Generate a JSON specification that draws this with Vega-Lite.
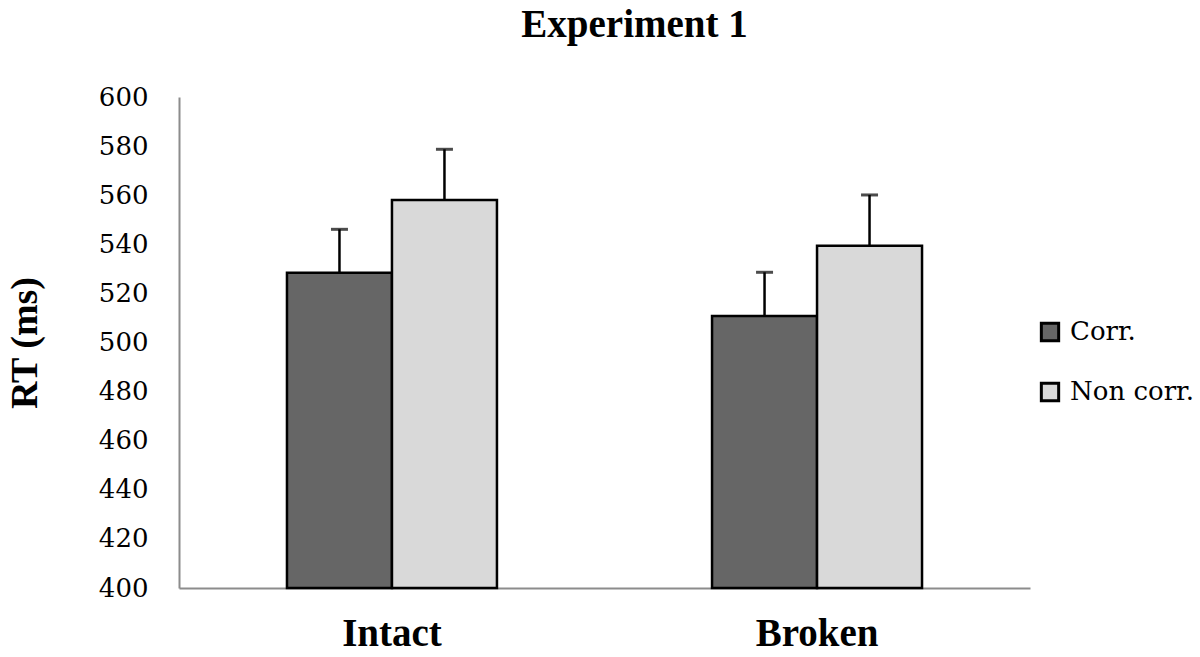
{
  "$schema": "https://vega.github.io/schema/vega-lite/v6.json",
  "autosize": {"type": "none"},
  "padding": {"left": 179, "top": 97, "right": 170, "bottom": 69},
  "width": 851,
  "height": 491,
  "background": "white",
  "title": {
    "text": "Experiment 1",
    "fontSize": 39,
    "fontWeight": "bold",
    "color": "black",
    "offset": 39,
    "dx": 30
  },
  "data": {
    "values": [
      {"group": "Intact", "cond": "Corr.", "rt": 528.4, "upper": 546.1},
      {"group": "Intact", "cond": "Non corr.", "rt": 558.0, "upper": 578.7},
      {"group": "Broken", "cond": "Corr.", "rt": 510.8, "upper": 528.6},
      {"group": "Broken", "cond": "Non corr.", "rt": 539.4, "upper": 560.1}
    ]
  },
  "encoding": {
    "x": {
      "field": "group",
      "type": "nominal",
      "sort": ["Intact", "Broken"],
      "scale": {"paddingInner": 0.506, "paddingOuter": 0.254},
      "axis": {
        "title": null,
        "labelAngle": 0,
        "labelFontSize": 39,
        "labelFontWeight": "bold",
        "labelPadding": 26
      }
    },
    "xOffset": {
      "field": "cond",
      "type": "nominal",
      "sort": ["Corr.", "Non corr."],
      "scale": {"paddingInner": 0, "paddingOuter": 0}
    }
  },
  "layer": [
    {
      "mark": {"type": "bar", "stroke": "black", "strokeWidth": 2.5},
      "encoding": {
        "y": {
          "field": "rt",
          "type": "quantitative",
          "scale": {"domain": [400, 600], "zero": false, "nice": false},
          "axis": {
            "title": "RT (ms)",
            "values": [400, 420, 440, 460, 480, 500, 520, 540, 560, 580, 600],
            "labelFont": "DejaVu Serif",
            "labelFontSize": 26,
            "labelPadding": 31,
            "titleFontSize": 38,
            "titleFontWeight": "bold",
            "titlePadding": 54
          }
        },
        "y2": {"datum": 400},
        "color": {
          "field": "cond",
          "type": "nominal",
          "sort": ["Corr.", "Non corr."],
          "scale": {"domain": ["Corr.", "Non corr."], "range": ["#666666", "#d9d9d9"]},
          "legend": {
            "title": null,
            "orient": "none",
            "legendX": 858,
            "legendY": 222,
            "symbolType": "square",
            "symbolSize": 300,
            "symbolStrokeColor": "black",
            "symbolStrokeWidth": 3,
            "labelFont": "DejaVu Serif",
            "labelFontSize": 26,
            "labelOffset": 7,
            "rowPadding": 30
          }
        }
      }
    },
    {
      "mark": {"type": "rule", "color": "black", "strokeWidth": 2.5},
      "encoding": {
        "y": {"field": "rt", "type": "quantitative"},
        "y2": {"field": "upper"}
      }
    },
    {
      "mark": {"type": "tick", "color": "black", "thickness": 3, "size": 17, "orient": "horizontal"},
      "encoding": {
        "y": {"field": "upper", "type": "quantitative"}
      }
    }
  ],
  "config": {
    "font": "Liberation Serif",
    "view": {"stroke": null},
    "title": {"font": "Liberation Serif"},
    "axis": {
      "labelFont": "Liberation Serif",
      "titleFont": "Liberation Serif",
      "labelColor": "black",
      "titleColor": "black",
      "grid": false,
      "ticks": false,
      "domainColor": "#8c8c8c",
      "domainWidth": 2
    },
    "legend": {
      "labelColor": "black"
    }
  }
}
